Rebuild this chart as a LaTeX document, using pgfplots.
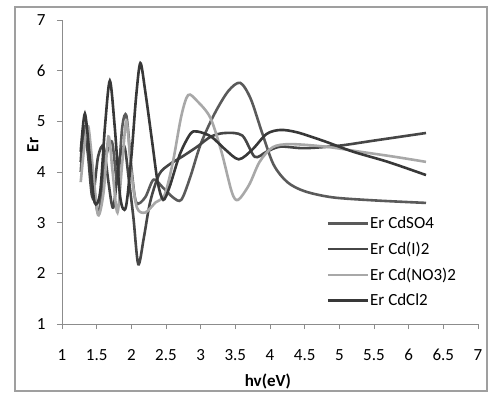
\documentclass[border=0pt]{standalone}
\usepackage{pgfplots}
\pgfplotsset{compat=1.18}
\usepackage{fontspec}
\setmainfont{Carlito}
\definecolor{cso}{HTML}{5A5A5A}
\definecolor{ci}{HTML}{464646}
\definecolor{cno}{HTML}{A8A8A8}
\definecolor{ccl}{HTML}{383838}
\definecolor{axg}{HTML}{8C8C8C}
\begin{document}
\begin{tikzpicture}
\useasboundingbox (-62pt,-70pt) rectangle (427pt,324pt);
\draw[gray!75, line width=1.2pt] (-47pt,-67pt) rectangle (425pt,317pt);
\begin{axis}[
  at={(0pt,0pt)}, anchor=south west,
  scale only axis, width=416pt, height=304pt,
  xmin=1, xmax=7, ymin=1, ymax=7,
  axis x line*=bottom, axis y line*=left,
  axis line style={axg, line width=1pt},
  xtick={1,1.5,2,2.5,3,3.5,4,4.5,5,5.5,6,6.5,7},
  xticklabels={1,1.5,2,2.5,3,3.5,4,4.5,5,5.5,6,6.5,7},
  ytick={1,2,3,4,5,6,7},
  tick align=outside, major tick length=5pt,
  tick style={axg, line width=0.8pt},
  /pgf/number format/assume math mode=true,
  tick label style={font=\fontsize{17}{20}\selectfont},
  xticklabel style={yshift=-19pt, inner sep=1pt},
  yticklabel style={xshift=-8pt},
  xlabel={\bfseries hv(eV)},
  ylabel={\bfseries Er},
  label style={font=\fontsize{17}{20}\selectfont, inner sep=1pt},
  x label style={at={(axis description cs:0.495,-0.188)}, anchor=center},
  y label style={at={(axis description cs:-0.07,0.589)}, anchor=center, rotate=0},
  legend style={at={(rel axis cs:0.636,0.36)}, anchor=north west, draw=none, fill=none,
    font=\fontsize{17}{20}\selectfont, row sep=8pt, inner sep=0pt,
    nodes={inner xsep=1pt}},
  legend cell align=left,
  legend image code/.code={\draw[#1, line width=2.4pt] (0pt,0pt) -- (40pt,0pt);},
]
% Er CdSO4
\addplot[cso, line width=2.6pt, smooth, tension=0.5] coordinates {
(1.27,4.0) (1.33,4.9) (1.40,4.5) (1.47,3.6) (1.53,3.2) (1.62,4.2) (1.72,4.6) (1.80,3.8)
(1.87,4.9) (1.93,5.1) (2.00,4.1) (2.07,3.4) (2.20,3.5) (2.32,3.85) (2.45,3.7) (2.60,3.5)
(2.72,3.45) (2.85,3.9) (3.00,4.55) (3.20,5.15) (3.40,5.6) (3.57,5.76) (3.72,5.45) (3.88,4.8)
(4.05,4.15) (4.25,3.8) (4.50,3.62) (4.90,3.5) (5.50,3.44) (6.25,3.39)};
% Er Cd(I)2
\addplot[ci, line width=2.6pt, smooth, tension=0.5] coordinates {
(1.27,4.2) (1.31,4.8) (1.37,4.4) (1.44,3.5) (1.52,4.3) (1.60,4.5) (1.67,3.8) (1.74,3.3)
(1.82,4.2) (1.90,4.5) (1.96,3.9) (2.03,3.1) (2.10,2.18) (2.18,2.7) (2.27,3.4) (2.40,3.95)
(2.55,4.15) (2.73,4.3) (2.95,4.5) (3.15,4.7) (3.35,4.77) (3.60,4.72) (3.78,4.3) (3.95,4.4)
(4.15,4.5) (4.50,4.47) (5.00,4.52) (5.50,4.62) (6.25,4.77)};
% Er Cd(NO3)2
\addplot[cno, line width=2.6pt, smooth, tension=0.5] coordinates {
(1.27,3.8) (1.33,4.6) (1.38,4.9) (1.45,4.0) (1.52,3.15) (1.60,3.6) (1.67,4.7) (1.73,4.0)
(1.80,3.2) (1.87,4.2) (1.93,5.0) (2.00,4.0) (2.08,3.3) (2.20,3.2) (2.35,3.4) (2.48,3.55)
(2.60,4.2) (2.72,5.1) (2.82,5.52) (2.95,5.4) (3.14,5.07) (3.30,4.4) (3.45,3.6) (3.54,3.45)
(3.70,3.75) (3.85,4.2) (4.04,4.49) (4.30,4.55) (4.80,4.5) (5.30,4.4) (5.80,4.3) (6.25,4.2)};
% Er CdCl2
\addplot[ccl, line width=2.6pt, smooth, tension=0.5] coordinates {
(1.27,4.4) (1.33,5.15) (1.40,4.3) (1.47,3.4) (1.55,3.6) (1.62,4.9) (1.69,5.8) (1.76,4.9)
(1.84,3.5) (1.92,3.3) (2.00,4.3) (2.07,5.5) (2.13,6.15) (2.20,5.6) (2.30,4.6) (2.38,3.8)
(2.46,3.45) (2.55,3.7) (2.70,4.35) (2.85,4.75) (2.95,4.8) (3.15,4.7) (3.35,4.45) (3.55,4.25)
(3.75,4.45) (3.95,4.75) (4.15,4.83) (4.40,4.78) (4.80,4.6) (5.20,4.4) (5.70,4.2) (6.25,3.94)};
\legend{Er CdSO4, Er Cd(I)2, Er Cd(NO3)2, Er CdCl2}
\end{axis}
\end{tikzpicture}
\end{document}
